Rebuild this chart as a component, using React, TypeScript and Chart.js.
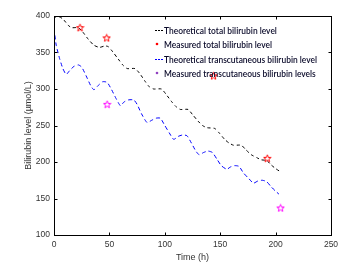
import React, { useEffect, useRef } from "react";
import { Chart, registerables } from "chart.js";
Chart.register(...registerables);

// Theoretical total bilirubin (time h, µmol/L)
const totalTheoT = [0, 3, 8, 13, 16, 22, 26, 31, 36, 41, 46, 49, 53, 58, 62, 66, 73, 77, 82, 86, 90, 97, 101, 106, 110, 114, 121, 125, 130, 134, 138, 145, 149, 154, 158, 162, 169, 173, 178, 183, 187, 192, 196, 200, 204];
const totalTheoV = [397, 400, 396, 387, 384, 384, 378, 368, 360, 357, 359, 358, 351, 341, 333, 328, 328, 322, 311, 303, 300, 300, 293, 283, 276, 272, 272, 265, 256, 250, 247, 246, 240, 231, 226, 223, 223, 217, 210, 206, 203, 202, 196, 191, 187];

// Theoretical transcutaneous bilirubin
const tcTheoT = [0, 2, 5, 8, 11, 14, 18, 22, 25, 29, 33, 36, 40, 44, 48, 52, 56, 60, 63, 67, 72, 75, 79, 84, 88, 92, 96, 100, 104, 108, 112, 116, 120, 124, 128, 131, 135, 139, 143, 147, 151, 156, 159, 163, 167, 171, 176, 180, 184, 188, 192, 196, 200, 203];
const tcTheoV = [383, 360, 342, 328, 320, 325, 331, 333, 330, 318, 305, 299, 305, 310, 309, 299, 287, 277, 282, 285, 285, 279, 266, 254, 257, 260, 260, 250, 240, 231, 235, 237, 236, 226, 215, 210, 213, 215, 213, 204, 195, 190, 193, 195, 194, 185, 177, 171, 174, 175, 173, 166, 160, 156];

// Measured values
const totalMeasT = [23.5, 47.5, 144, 192.5];
const totalMeasV = [384, 370, 318, 205];
const tcMeasT = [48, 204.5];
const tcMeasV = [279, 137];

const xTicks = [0, 50, 100, 150, 200, 250];
const yTicks = [100, 150, 200, 250, 300, 350, 400];

const legendLabels = [
  "Theoretical total bilirubin level",
  "Measured total bilirubin level",
  "Theoretical transcutaneous bilirubin level",
  "Measured transcutaneous bilirubin levels",
];

function pts(t: number[], v: number[]) {
  return t.map((x, i) => ({ x, y: v[i] }));
}

function starImage(color: string) {
  const c = document.createElement("canvas");
  c.width = 9;
  c.height = 9;
  const g = c.getContext("2d")!;
  g.strokeStyle = color;
  g.lineWidth = 1;
  g.beginPath();
  const cx = 4.5, cy = 4.8, ro = 3.9, ri = 1.6;
  for (let k = 0; k < 10; k++) {
    const r = k % 2 === 0 ? ro : ri;
    const a = -Math.PI / 2 + (k * Math.PI) / 5;
    const px = cx + r * Math.cos(a), py = cy + r * Math.sin(a);
    if (k === 0) g.moveTo(px, py); else g.lineTo(px, py);
  }
  g.closePath();
  g.stroke();
  return c;
}

const framePlugin = {
  id: "frame",
  afterDraw(chart: any) {
    const { ctx, chartArea: a, scales } = chart;
    ctx.save();
    ctx.strokeStyle = "#000";
    ctx.lineWidth = 1;
    const L = Math.round(a.left) + 0.5, R = Math.round(a.right) + 0.5;
    const T = Math.round(a.top) + 0.5, B = Math.round(a.bottom) + 0.5;
    ctx.strokeRect(L, T, R - L, B - T);
    ctx.beginPath();
    xTicks.forEach((v) => {
      const p = Math.round(scales.x.getPixelForValue(v)) + 0.5;
      ctx.moveTo(p, B); ctx.lineTo(p, B - 3);
      ctx.moveTo(p, T); ctx.lineTo(p, T + 3);
    });
    yTicks.forEach((v) => {
      const p = Math.round(scales.y.getPixelForValue(v)) + 0.5;
      ctx.moveTo(L, p); ctx.lineTo(L + 3, p);
      ctx.moveTo(R, p); ctx.lineTo(R - 3, p);
    });
    ctx.stroke();

    // legend
    const rows = [30, 44, 59, 73];
    const textX = 164;
    ctx.font = "600 9.5px Lato";
    let maxW = 0;
    legendLabels.forEach((s) => (maxW = Math.max(maxW, ctx.measureText(s).width)));
    const sx = Math.min(1, 153 / maxW);
    legendLabels.forEach((s, i) => {
      const y = rows[i];
      if (i === 0 || i === 2) {
        ctx.save();
        ctx.strokeStyle = i === 0 ? "#000" : "#0000ff";
        ctx.lineWidth = 1.2;
        ctx.setLineDash([2, 1]);
        ctx.beginPath();
        ctx.moveTo(155, y + 0.5);
        ctx.lineTo(163, y + 0.5);
        ctx.stroke();
        ctx.restore();
      } else {
        ctx.fillStyle = i === 1 ? "#ff0000" : "#9040c0";
        ctx.beginPath();
        ctx.arc(157, y, 1.3, 0, Math.PI * 2);
        ctx.fill();
      }
      ctx.save();
      ctx.translate(textX, y);
      ctx.scale(sx, 1);
      ctx.fillStyle = "#0a0a2a";
      ctx.textBaseline = "middle";
      ctx.textAlign = "left";
      ctx.fillText(s, 0, 0.5);
      ctx.restore();
    });
    ctx.restore();
  },
};

export default function App() {
  const ref = useRef<HTMLCanvasElement | null>(null);
  useEffect(() => {
    const canvas = ref.current!;
    const redStar = starImage("#ff0000");
    const magStar = starImage("#ff00ff");
    const chart = new Chart(canvas, {
      type: "line",
      data: {
        datasets: [
          {
            label: legendLabels[1],
            data: pts(totalMeasT, totalMeasV),
            showLine: false,
            pointStyle: redStar as any,
            pointRadius: 4,
            order: 0,
          },
          {
            label: legendLabels[3],
            data: pts(tcMeasT, tcMeasV),
            showLine: false,
            pointStyle: magStar as any,
            pointRadius: 4,
            order: 0,
          },
          {
            label: legendLabels[0],
            data: pts(totalTheoT, totalTheoV),
            borderColor: "#000000",
            borderWidth: 1,
            borderDash: [3, 3],
            pointRadius: 0,
            tension: 0.2,
            fill: false,
            order: 1,
          },
          {
            label: legendLabels[2],
            data: pts(tcTheoT, tcTheoV),
            borderColor: "#0000ff",
            borderWidth: 1,
            borderDash: [4, 3],
            pointRadius: 0,
            tension: 0.2,
            fill: false,
            order: 1,
          },
        ],
      },
      options: {
        responsive: false,
        animation: false,
        devicePixelRatio: 1,
        layout: { padding: { left: 0, top: 16, right: 24, bottom: 0 } },
        plugins: { legend: { display: false }, tooltip: { enabled: false } },
        scales: {
          x: {
            type: "linear",
            min: 0,
            max: 250,
            afterBuildTicks: (s: any) => { s.ticks = xTicks.map((v) => ({ value: v })); },
            afterFit: (s: any) => { s.height = 36; },
            grid: { display: false, drawTicks: false },
            border: { display: false },
            ticks: { padding: 5, color: "#333", font: { family: "Liberation Sans, Arial", size: 8.5 } },
            title: {
              display: true,
              text: "Time (h)",
              color: "#333",
              font: { family: "Liberation Sans, Arial", size: 9 },
              padding: { top: 0, bottom: 8 },
            },
          },
          y: {
            type: "linear",
            min: 100,
            max: 400,
            afterBuildTicks: (s: any) => { s.ticks = yTicks.map((v) => ({ value: v })); },
            afterFit: (s: any) => { s.width = 54; },
            grid: { display: false, drawTicks: false },
            border: { display: false },
            ticks: { padding: 4, color: "#333", font: { family: "Liberation Sans, Arial", size: 8.5 } },
            title: {
              display: true,
              text: "Bilirubin level (µmol/L)",
              color: "#333",
              font: { family: "Liberation Sans, Arial", size: 9 },
              padding: { top: 23, bottom: 0 },
            },
          },
        },
      },
      plugins: [framePlugin],
    });
    return () => chart.destroy();
  }, []);
  return (
    <div style={{ position: "fixed", left: 0, top: 0, width: 355, height: 271, background: "#fff" }}>
      <canvas ref={ref} width={355} height={271} style={{ width: 355, height: 271 }} />
    </div>
  );
}
